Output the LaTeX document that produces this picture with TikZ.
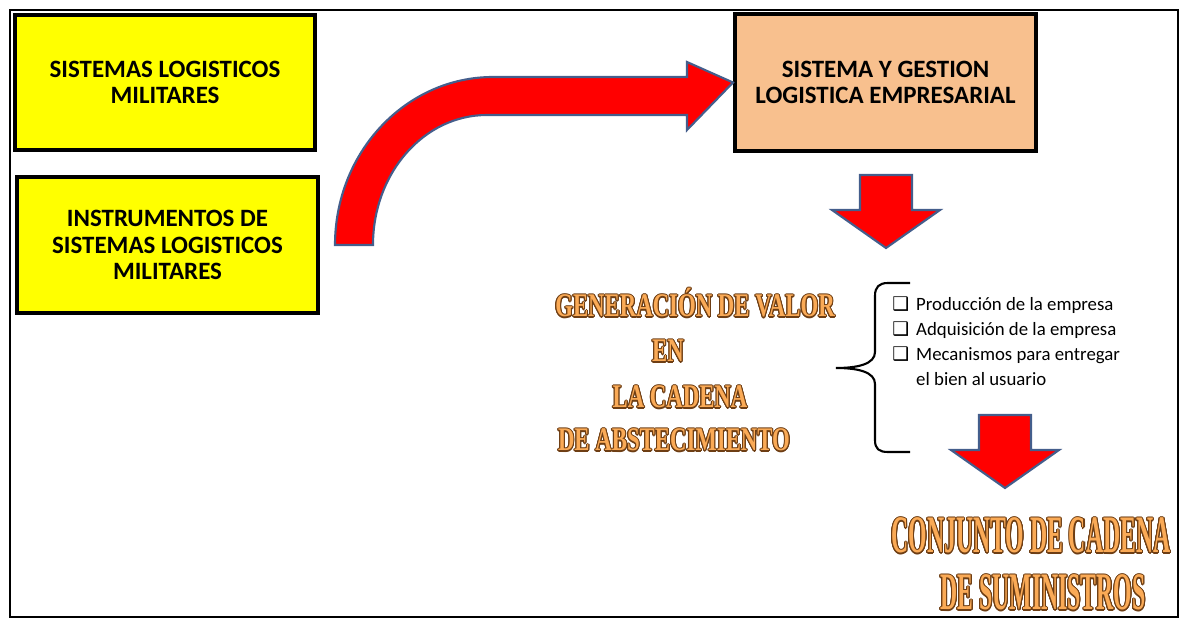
\documentclass[tikz,border=0pt]{standalone}
\usepackage{fontspec}
\usepackage{contour}
\setmainfont{Carlito}
\newfontfamily\westfont{Liberation Serif}[FakeStretch=0.69]
\newfontfamily\tallwestfont{Liberation Serif}[FakeStretch=0.45]
\newfontfamily\symfont{DejaVu Sans}
\usetikzlibrary{positioning}
\definecolor{boxyellow}{RGB}{255,255,0}
\definecolor{boxpeach}{RGB}{248,192,142}
\definecolor{arrowred}{RGB}{255,0,0}
\definecolor{arrowline}{RGB}{68,94,140}
\definecolor{westfill}{RGB}{250,170,86}
\definecolor{westline}{RGB}{110,62,20}
\contourlength{0.6pt}
\newcommand{\chkbox}{{\symfont\char"2751}}

\begin{document}
\begin{tikzpicture}[x=0.02cm,y=-0.02cm,
    infobox/.style={draw=black, line width=2.3pt, minimum width=6cm, minimum height=2.7cm,
      align=center, inner sep=0pt, font=\bfseries\fontsize{14.2}{15.2}\selectfont},
    blockarrow/.style={fill=arrowred, draw=arrowline, line width=1.2pt, line join=miter},
    western/.style={anchor=base, inner sep=0pt, text=westfill}]
  \useasboundingbox (0,0) rectangle (1181,621);

  \node[infobox, fill=boxyellow] (militares) at (165,82.5) {SISTEMAS LOGISTICOS\\MILITARES};
  \node[infobox, fill=boxyellow, minimum width=6.02cm, minimum height=2.72cm] (instrumentos) at (167.5,245)
    {INSTRUMENTOS DE\\SISTEMAS LOGISTICOS\\MILITARES};
  \node[infobox, fill=boxpeach, minimum width=6.02cm, minimum height=2.74cm] (empresarial) at (885.5,82.5)
    {SISTEMA Y GESTION\\LOGISTICA EMPRESARIAL};

  \draw[blockarrow] (335,245) .. controls (335,152) and (406,77) .. (493,77) -- (687,77) -- (687,62)
    -- (empresarial.west) -- (687,130) -- (687,115) -- (487,115)
    .. controls (424,115) and (373,173) .. (373,245) -- cycle;

  \foreach \cx/\ty in {886/175, 1005/415}
    \draw[blockarrow] (\cx-26,\ty) -- (\cx+26,\ty) -- (\cx+26,\ty+35) -- (\cx+54,\ty+35)
      -- (\cx,\ty+73) -- (\cx-54,\ty+35) -- (\cx-26,\ty+35) -- cycle;

  \node[western, font=\westfont\bfseries\fontsize{18.8}{20}\selectfont] (generacion) at (695,317)
    {\contour{westline}{GENERACIÓN DE VALOR}};
  \node[western, font=\westfont\bfseries\fontsize{18.8}{20}\selectfont] (en) at (668,362)
    {\contour{westline}{EN}};
  \node[western, font=\westfont\bfseries\fontsize{18.8}{20}\selectfont] (cadena) at (680,408)
    {\contour{westline}{LA CADENA}};
  \node[western, font=\westfont\bfseries\fontsize{18.8}{20}\selectfont] (abastecimiento) at (674,451)
    {\contour{westline}{DE ABSTECIMIENTO}};

  \draw[line width=1.2pt] (910,283) -- (888,283) .. controls (879,283) and (875,287) .. (875,296)
    -- (875,352) .. controls (875,364) and (858,368) .. (836,368)
    .. controls (858,368) and (875,372) .. (875,384) -- (875,440)
    .. controls (875,449) and (879,452) .. (888,452) -- (910,452);

  \node[anchor=north west, inner sep=0pt, font=\fontsize{10.7}{14.2}\selectfont] (items) at (892,293)
    {\begin{tabular}{@{}l@{\hspace{4pt}}l@{}}
      \chkbox & Producción de la empresa\\
      \chkbox & Adquisición de la empresa\\
      \chkbox & Mecanismos para entregar\\
              & el bien al usuario
    \end{tabular}};

  \node[western, font=\tallwestfont\bfseries\fontsize{30}{32}\selectfont] (conjunto) at (1031,553)
    {\contour{westline}{CONJUNTO DE CADENA}};
  \node[western, font=\tallwestfont\bfseries\fontsize{30}{32}\selectfont] (suministros) at (1043,610)
    {\contour{westline}{DE SUMINISTROS}};

  \draw[line width=1.4pt] (10,10) rectangle (1178,617);
\end{tikzpicture}
\end{document}
